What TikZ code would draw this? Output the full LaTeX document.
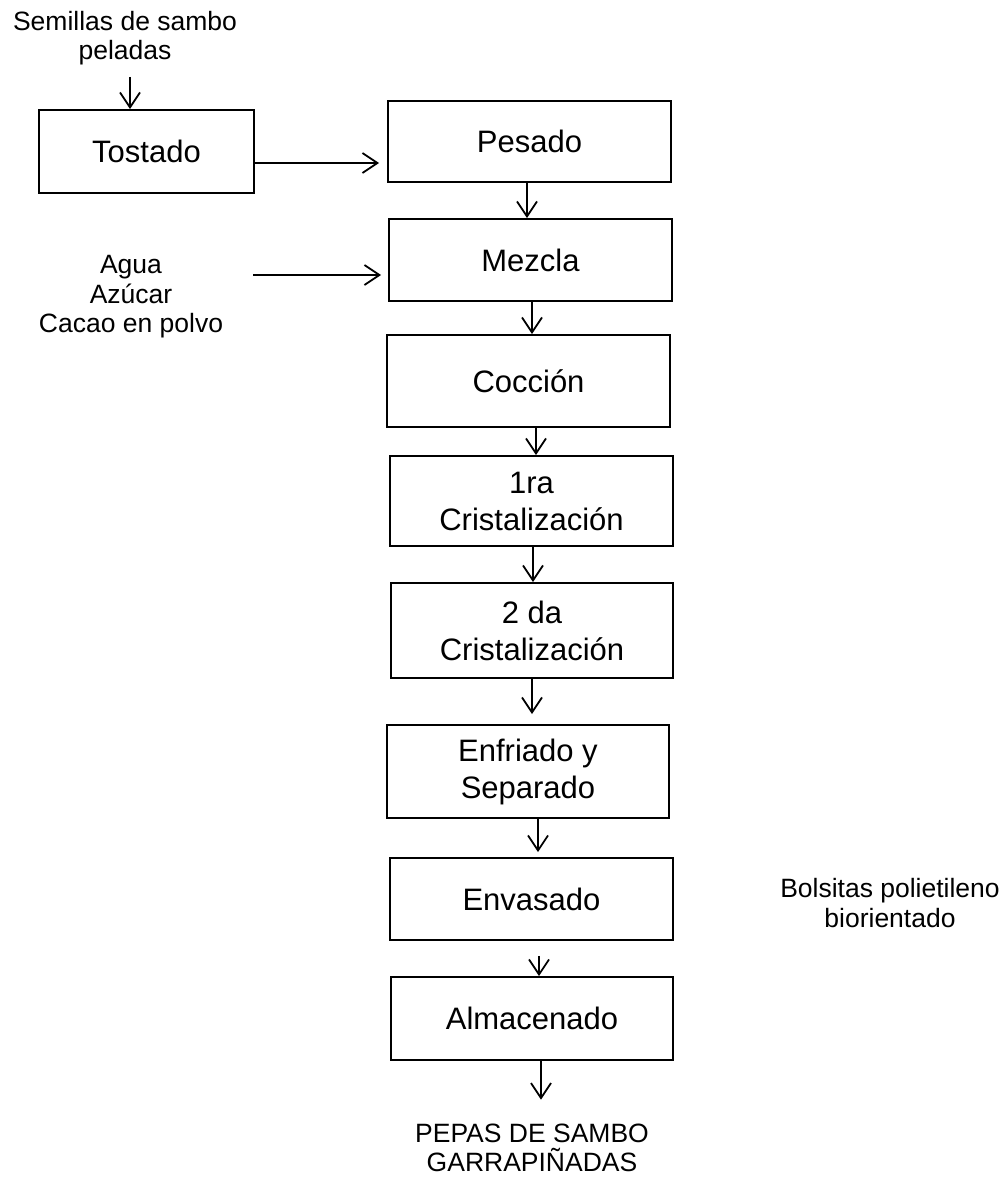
\documentclass[tikz,border=0pt]{standalone}
\usepackage{fontspec}
\setmainfont{Liberation Sans}
\usetikzlibrary{arrows.meta,calc}
\begin{document}
\begin{tikzpicture}[x=1pt,y=-1pt,
  stepbox/.style={draw,line width=1.8pt,inner sep=0pt,align=center,
    font=\fontsize{31}{37}\selectfont},
  side/.style={align=center,inner sep=0pt,font=\fontsize{26.5}{29.5}\selectfont},
  arr/.style={line width=1.8pt,-{Straight Barb[length=15pt,width=20pt,line width=1.8pt]}}
]
\useasboundingbox (0,0) rectangle (1007,1180);

\node[stepbox,minimum width=215pt,minimum height=83pt] (tostado) at (146.5,151.5) {Tostado};
\node[stepbox,minimum width=283pt,minimum height=81pt] (pesado) at (529.5,141.5) {Pesado};
\node[stepbox,minimum width=283pt,minimum height=82pt] (mezcla) at (530.5,260) {Mezcla};
\node[stepbox,minimum width=283pt,minimum height=92pt] (coccion) at (528.5,381) {Cocción};
\node[stepbox,minimum width=283pt,minimum height=90pt] (cri1) at (531.5,501) {1ra\\Cristalización};
\node[stepbox,minimum width=282pt,minimum height=95pt] (cri2) at (532,630.5) {2 da\\Cristalización};
\node[stepbox,minimum width=282pt,minimum height=93pt] (enfriado) at (528,771.5) {Enfriado y\\Separado};
\node[stepbox,minimum width=283pt,minimum height=82pt] (envasado) at (531.5,899) {Envasado};
\node[stepbox,minimum width=282pt,minimum height=83pt] (almacenado) at (532,1018.5) {Almacenado};

\node[side] (semillas) at (125,38) {Semillas de sambo\\peladas};
\node[side] (agua) at (131,297) {Agua\\Azúcar\\Cacao en polvo};
\node[side] (bolsitas) at (890,903) {Bolsitas polietileno\\biorientado};
\node[side] (pepas) at (532,1148) {PEPAS DE SAMBO\\GARRAPIÑADAS};

\coordinate (sin) at (130,77);
\coordinate (ain) at (253,275);

\draw[arr] (sin) -- (sin |- tostado.north);
\draw[arr,shorten >=8pt] ([yshift=-11.5pt]tostado.east) -- ([yshift=-11.5pt]tostado.east -| pesado.west);
\draw[arr,shorten >=7pt] (ain) -- (ain -| mezcla.west);

\draw[arr] ([xshift=-2.5pt]pesado.south) -- ([xshift=-2.5pt]pesado.south |- mezcla.north);
\draw[arr] ([xshift=1.5pt]mezcla.south) -- ([xshift=1.5pt]mezcla.south |- coccion.north);
\draw[arr] ([xshift=7.5pt]coccion.south) -- ([xshift=7.5pt]coccion.south |- cri1.north);
\draw[arr] ([xshift=1.5pt]cri1.south) -- ([xshift=1.5pt]cri1.south |- cri2.north);
\draw[arr,shorten >=10pt] (cri2.south) -- (cri2.south |- enfriado.north);
\draw[arr,shorten >=5pt] ([xshift=10pt]enfriado.south) -- ([xshift=10pt]enfriado.south |- envasado.north);
\draw[arr,shorten <=15pt] ([xshift=7.5pt]envasado.south) -- ([xshift=7.5pt]envasado.south |- almacenado.north);
\draw[arr,shorten >=24pt] ([xshift=9pt]almacenado.south) -- ([xshift=9pt]almacenado.south |- pepas.north);
\end{tikzpicture}
\end{document}
